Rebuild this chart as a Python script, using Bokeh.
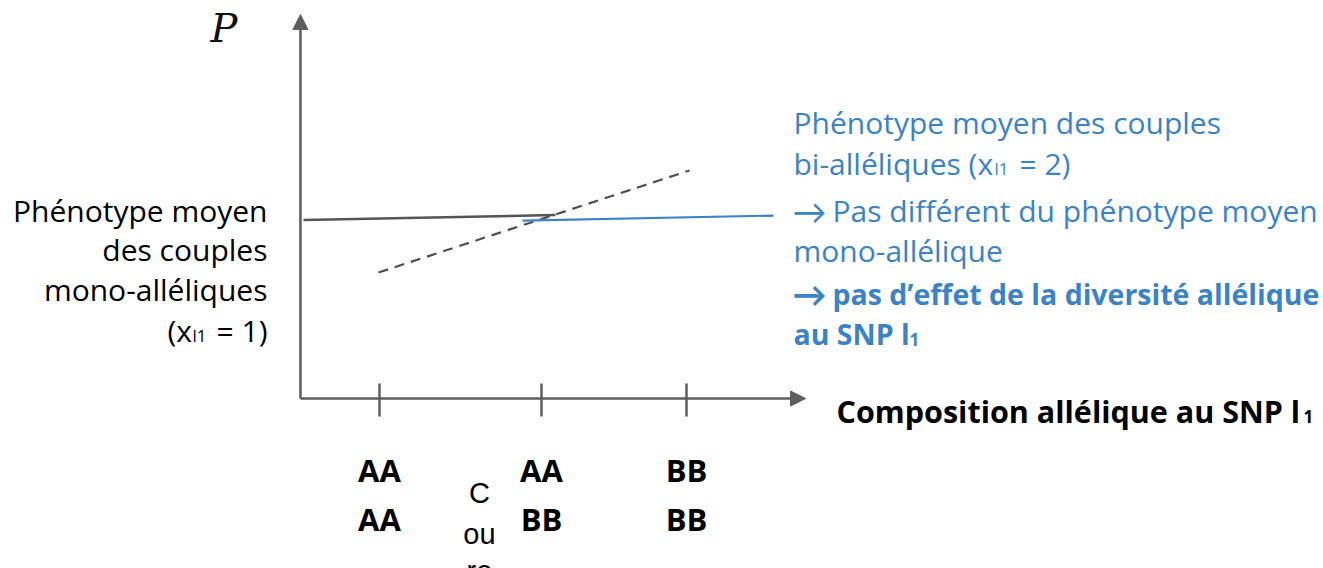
from bokeh.plotting import figure
from bokeh.models import Range1d, Arrow, NormalHead
from bokeh.core.properties import value
from bokeh.embed import file_html
from bokeh.resources import INLINE

# ---------------- data ----------------
top_alleles = ["AA", "AA", "BB"]
bottom_alleles = ["AA", "BB", "BB"]
cat_x = [1.0, 2.0, 2.895]            # composition positions on the x scale

mono_x = [0.531, 2.086]              # mean phenotype, mono-allelic couples
mono_p = [0.997, 1.025]
bi_x = [1.883, 3.432]                # mean phenotype, bi-allelic couples
bi_p = [0.994, 1.022]
trend_x = [0.994, 2.914]             # hypothetical trend (dashed)
trend_p = [0.704, 1.274]

axis_x0, axis_p0 = 0.512, 0.0
axis_x1, axis_p1 = 3.63, 2.145

# ---------------- layout helpers ----------------
W, H = 1323, 568
PX_X, PX_P = 162.0, 179.0      # pixels per data unit
X_REF0, Y_REF0 = 379.0, 398.0  # screenshot pixel of x=1, P=0


def dx(X):
    return 1.0 + (X - X_REF0) / PX_X


def dy(Y):
    return (Y_REF0 - Y) / PX_P


p = figure(width=W, height=H, output_backend="svg", toolbar_location=None,
           x_range=Range1d(dx(0), dx(W)), y_range=Range1d(dy(H), dy(0)),
           min_border=0, x_axis_type=None, y_axis_type=None)
p.grid.visible = False
p.outline_line_color = None
p.background_fill_color = "white"
p.border_fill_color = "white"

GRAY = "#5e5e5e"
BLUE = "#3b83c6"
FONT = value("Open Sans")
ARW = value("Lato")
FS = "30px"
SUB = "17px"


def txt(X, Y, s, size=FS, color="black", style="normal", align="left", font=FONT):
    p.text(x=[dx(X)], y=[dy(Y)], text=[s], text_font=font, text_font_size=size,
           text_font_style=style, text_color=color,
           text_align=align, text_baseline="alphabetic")


# axes with arrows
p.add_layout(Arrow(x_start=axis_x0, y_start=axis_p0, x_end=axis_x0, y_end=axis_p1,
                   line_color=GRAY, line_width=2.5,
                   end=NormalHead(size=15, fill_color=GRAY, line_color=GRAY, line_width=1)))
p.add_layout(Arrow(x_start=axis_x0, y_start=axis_p0, x_end=axis_x1, y_end=axis_p0,
                   line_color=GRAY, line_width=2.5,
                   end=NormalHead(size=15, fill_color=GRAY, line_color=GRAY, line_width=1)))
# ticks
p.segment(x0=cat_x, y0=[dy(416)] * 3, x1=cat_x, y1=[dy(383)] * 3, line_color=GRAY, line_width=2.5)

# lines
p.line(trend_x, trend_p, line_color="#505050", line_width=2.2, line_dash="10 7")
p.line(mono_x, mono_p, line_color="#555555", line_width=2.5)
p.line(bi_x, bi_p, line_color=BLUE, line_width=2.2)

# P label
txt(210, 27, "P", size="40px", color="#111111", style="italic", font=value("DejaVu Serif"))

# left text (right aligned)
for Y, s in [(210, "Phénotype moyen"), (249, "des couples"), (289, "mono-alléliques")]:
    txt(267, Y, s, align="right")
txt(167, 330, "(x")
txt(192, 335, "l1", size=SUB)
txt(267, 330, "= 1)", align="right")

# right blue text
txt(793, 122, "Phénotype moyen des couples", color=BLUE)
txt(793, 163, "bi-alléliques (x", color=BLUE)
txt(994, 168, "l1", size=SUB, color=BLUE)
txt(1019, 163, "= 2)", color=BLUE)
txt(792, 210, "→", size="34px", color=BLUE, font=ARW)
txt(832, 210, "Pas différent du phénotype moyen", color=BLUE)
txt(793, 250, "mono-allélique", color=BLUE)
txt(792, 293, "→", size="34px", color=BLUE, font=ARW, style="bold")
txt(832, 293, "pas d’effet de la diversité allélique", size="28.5px", color=BLUE, style="bold")
txt(793, 333, "au SNP l", size="28.5px", color=BLUE, style="bold")
txt(909, 339, "1", size=SUB, color=BLUE, style="bold")

# x axis title
txt(836, 410, "Composition allélique au SNP l", size="30.5px", style="bold")
txt(1303, 416, "1", size=SUB, style="bold")

# category labels
p.text(x=cat_x, y=[dy(469)] * 3, text=top_alleles, text_font=FONT, text_font_size="31px",
       text_font_style="bold", text_color="black", text_align="center", text_baseline="alphabetic")
p.text(x=cat_x, y=[dy(518)] * 3, text=bottom_alleles, text_font=FONT, text_font_size="31px",
       text_font_style="bold", text_color="black", text_align="center", text_baseline="alphabetic")

# stray "C ou re" text
for Y, s in [(492, "C"), (533, "ou"), (570, "re")]:
    txt(479, Y, s, size="29px", align="center", font=value("Liberation Sans"))

open("out.html", "w").write(file_html(p, INLINE))
